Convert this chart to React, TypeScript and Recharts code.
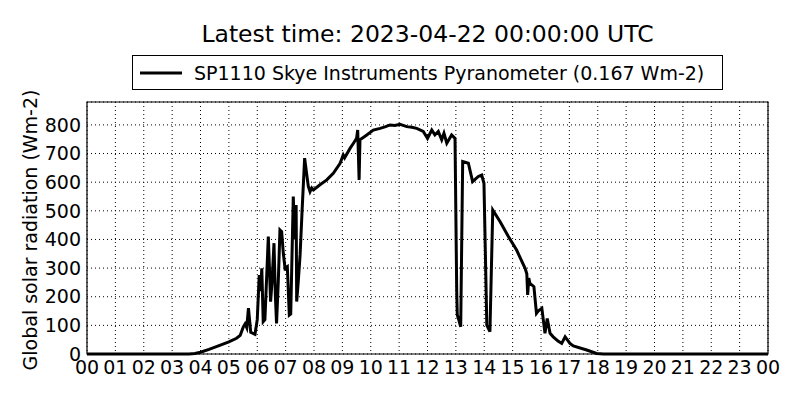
import { LineChart, Line, XAxis, YAxis, CartesianGrid, Legend, ReferenceArea, Label } from "recharts"

const FONT = "DejaVu Sans, sans-serif"

// hour of day (UTC)
const hours = [
  0, 3.6, 3.8, 4.0, 4.3, 4.7, 5.0, 5.27, 5.4, 5.51, 5.57, 5.63, 5.69, 5.77, 5.92,
  6.0, 6.07, 6.12, 6.16, 6.21, 6.27, 6.39, 6.43, 6.47, 6.52, 6.59, 6.64, 6.68, 6.74,
  6.8, 6.86, 6.92, 6.98, 7.06, 7.13, 7.18, 7.27, 7.32, 7.37, 7.39, 7.45, 7.51, 7.58,
  7.67, 7.74, 7.8, 7.86, 7.92, 7.98, 8.2, 8.45, 8.68, 8.92, 9.03, 9.08, 9.27, 9.39,
  9.5, 9.54, 9.59, 9.62, 9.86, 10.09, 10.33, 10.5, 10.68, 10.85, 11.03, 11.27, 11.45,
  11.62, 11.85, 12.0, 12.15, 12.26, 12.38, 12.5, 12.58, 12.68, 12.85, 12.97,
  13.03, 13.05, 13.1, 13.17, 13.24, 13.44, 13.59, 13.79,
  13.91, 13.99, 14.09, 14.2, 14.3, 14.56, 14.85, 15.14, 15.44, 15.5, 15.53, 15.57,
  15.61, 15.75, 15.84, 15.9, 16.03, 16.14, 16.22, 16.32, 16.43, 16.6, 16.73, 16.85,
  17.02, 17.14, 17.61, 17.96, 18.2, 24,
]

// global solar radiation, Wm-2
const radiation = [
  0, 0, 2, 6, 16, 31, 42, 55, 65, 95, 105, 92, 160, 76, 69,
  120, 276, 220, 299, 113, 120, 410, 300, 183, 250, 387, 200, 107, 250,
  433, 427, 350, 299, 305, 136, 140, 550, 400, 520, 183, 260, 346, 500,
  684, 630, 585, 567, 580, 573, 590, 608, 631, 666, 695, 685, 718, 736,
  753, 782, 608, 748, 765, 782, 788, 793, 800, 798, 802, 794, 792,
  788, 777, 753, 782, 765, 777, 748, 771, 736, 765, 753,
  218, 136, 120, 95, 672, 666, 602, 620,
  625, 596, 101, 78, 503, 462, 410, 363, 299, 280, 206, 265,
  247, 235, 142, 150, 160, 72, 124, 72, 60, 45, 37, 60,
  37, 28, 14, 2, 0, 0,
]

const hourTicks = [0, 1, 2, 3, 4, 5, 6, 7, 8, 9, 10, 11, 12, 13, 14, 15, 16, 17, 18, 19, 20, 21, 22, 23, 24]
const hourLabels = ["00", "01", "02", "03", "04", "05", "06", "07", "08", "09", "10", "11", "12", "13", "14", "15", "16", "17", "18", "19", "20", "21", "22", "23", "00"]
const valueTicks = [0, 100, 200, 300, 400, 500, 600, 700, 800]

const seriesName = "SP1110 Skye Instruments Pyranometer (0.167 Wm-2)"
const title = "Latest time: 2023-04-22 00:00:00 UTC"

const data = hours.map((h, i) => ({ hour: h, value: radiation[i] }))

function LegendBox() {
  return (
    <div style={{
      width: 589, height: 33, border: "1px solid #000", background: "#fff",
      display: "flex", alignItems: "center", fontFamily: FONT, fontSize: 19, color: "#000",
    }}>
      <svg width={61} height={10} style={{ flex: "none" }}>
        <line x1={7} y1={5} x2={49} y2={5} stroke="#000" strokeWidth={3} />
      </svg>
      <span style={{ whiteSpace: "nowrap" }}>{seriesName}</span>
    </div>
  )
}

export default function App() {
  return (
    <div style={{ position: "absolute", left: 0, top: 0, width: 800, height: 400, background: "#fff" }}>
      <div style={{
        position: "absolute", left: 0, top: 20, width: 855, textAlign: "center",
        fontFamily: FONT, fontSize: 23.5, color: "#000", lineHeight: "28px",
      }}>
        {title}
      </div>
      <LineChart width={800} height={400} data={data} margin={{ top: 102, right: 32, left: 0, bottom: 0 }}>
        <CartesianGrid stroke="#000" strokeWidth={1} strokeDasharray="1 3" />
        <XAxis
          type="number"
          dataKey="hour"
          domain={[0, 24]}
          ticks={hourTicks}
          interval={0}
          tickFormatter={(v: number) => hourLabels[hourTicks.indexOf(v)]}
          tick={{ fontSize: 19, fill: "#000", fontFamily: FONT }}
          axisLine={false}
          tickLine={false}
          tickSize={0}
          tickMargin={7}
          height={46}
        />
        <YAxis
          domain={[0, 880]}
          ticks={valueTicks}
          interval={0}
          tick={{ fontSize: 19, fill: "#000", fontFamily: FONT }}
          axisLine={false}
          tickLine={false}
          tickSize={0}
          tickMargin={6}
          width={87}
        >
          <Label
            content={({ viewBox }: any) => {
              const cx = 30
              const cy = viewBox.y + viewBox.height / 2 + 2
              return (
                <text x={cx} y={cy} transform={`rotate(-90 ${cx} ${cy})`} textAnchor="middle"
                  dominantBaseline="central" fontSize={19} fontFamily={FONT} fill="#000">
                  Global solar radiation (Wm-2)
                </text>
              )
            }}
          />
        </YAxis>
        <ReferenceArea x1={0} x2={24} y1={0} y2={880} fill="none" stroke="#000" strokeWidth={1.2} />
        <Legend
          layout="vertical"
          align="center"
          verticalAlign="middle"
          wrapperStyle={{ left: 132, top: 55, width: 591 }}
          content={() => <LegendBox />}
        />
        <Line
          type="linear"
          dataKey="value"
          name={seriesName}
          stroke="#000"
          strokeWidth={3}
          dot={false}
          isAnimationActive={false}
        />
      </LineChart>
    </div>
  )
}
